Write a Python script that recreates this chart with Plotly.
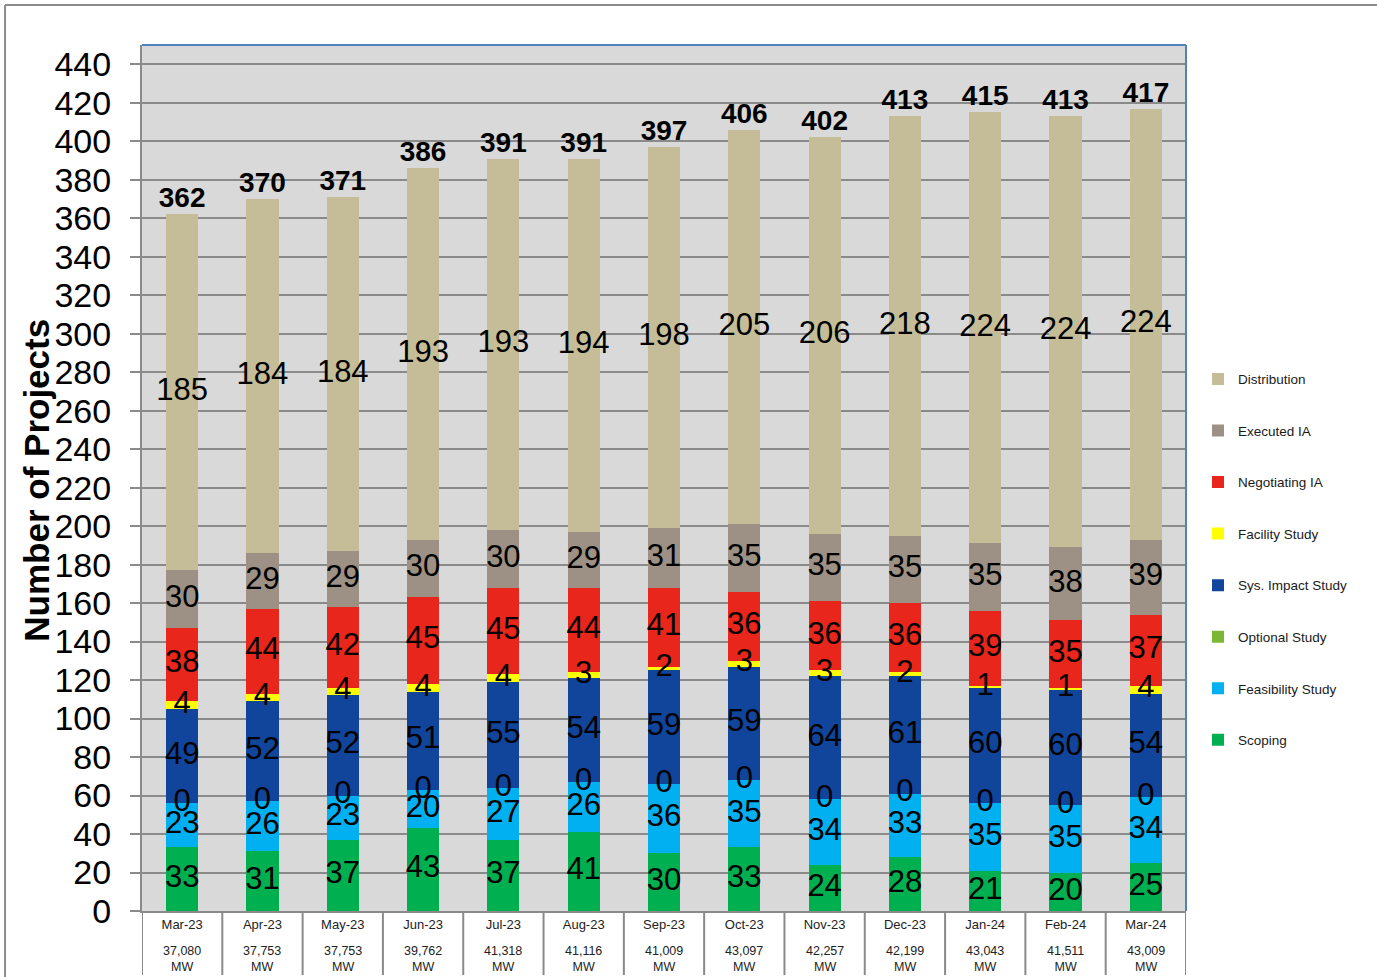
import numpy as np
import plotly.graph_objects as go

months = ["Mar-23", "Apr-23", "May-23", "Jun-23", "Jul-23", "Aug-23", "Sep-23",
          "Oct-23", "Nov-23", "Dec-23", "Jan-24", "Feb-24", "Mar-24"]
mw_labels = ["37,080", "37,753", "37,753", "39,762", "41,318", "41,116", "41,009",
             "43,097", "42,257", "42,199", "43,043", "41,511", "43,009"]

scoping = [33, 31, 37, 43, 37, 41, 30, 33, 24, 28, 21, 20, 25]
feasibility = [23, 26, 23, 20, 27, 26, 36, 35, 34, 33, 35, 35, 34]
optional = [0, 0, 0, 0, 0, 0, 0, 0, 0, 0, 0, 0, 0]
sys_impact = [49, 52, 52, 51, 55, 54, 59, 59, 64, 61, 60, 60, 54]
facility = [4, 4, 4, 4, 4, 3, 2, 3, 3, 2, 1, 1, 4]
negotiating = [38, 44, 42, 45, 45, 44, 41, 36, 36, 36, 39, 35, 37]
executed = [30, 29, 29, 30, 30, 29, 31, 35, 35, 35, 35, 38, 39]
distribution = [185, 184, 184, 193, 193, 194, 198, 205, 206, 218, 224, 224, 224]

series = [
    ("Scoping", scoping, "#00B050"),
    ("Feasibility Study", feasibility, "#00B0F0"),
    ("Optional Study", optional, "#7AB833"),
    ("Sys. Impact Study", sys_impact, "#10459B"),
    ("Facility Study", facility, "#FFFF00"),
    ("Negotiating IA", negotiating, "#E8261C"),
    ("Executed IA", executed, "#9C9184"),
    ("Distribution", distribution, "#C4BD97"),
]

FONT = "Liberation Sans, Arial, sans-serif"
GRID = "#8A8A8A"

fig = go.Figure()
base = np.zeros(len(months))
label_traces = []
n = len(series)
for k, (name, vals, color) in enumerate(series):
    v = np.array(vals, dtype=float)
    fig.add_trace(go.Bar(
        x=months, y=vals, name=name, marker=dict(color=color, line=dict(width=0)),
        legendgroup=name, legendrank=n - k,
        hovertemplate=name + ": %{y}<extra></extra>",
    ))
    label_traces.append(go.Scatter(
        x=months, y=base + v / 2, mode="text", text=[str(x) for x in vals],
        textposition="middle center",
        textfont=dict(size=31, color="black", family=FONT),
        showlegend=False, hoverinfo="skip",
    ))
    base = base + v

for t in label_traces:
    fig.add_trace(t)

totals = base.astype(int)
fig.add_trace(go.Scatter(
    x=months, y=totals, mode="text", text=[str(t) for t in totals],
    textposition="top center",
    textfont=dict(size=28, color="black", family=FONT, weight="bold"),
    showlegend=False, hoverinfo="skip", cliponaxis=False,
))

# MW row under the category labels
for m, w in zip(months, mw_labels):
    fig.add_annotation(x=m, xref="x", y=-0.036, yref="paper", yanchor="top",
                       text=f"{w}<br>MW", showarrow=False,
                       font=dict(size=12.5, color="#222222", family=FONT))

shapes = []
# category separators
for i in range(len(months) + 1):
    shapes.append(dict(type="line", xref="x", yref="paper", x0=i - 0.5, x1=i - 0.5,
                       y0=0, y1=-0.074, line=dict(color=GRID, width=2)))
# blue plot-area border (top, right)
shapes.append(dict(type="line", xref="paper", yref="paper", x0=0, x1=1, y0=1, y1=1,
                   line=dict(color="#4F81BD", width=2)))
shapes.append(dict(type="line", xref="paper", yref="paper", x0=1, x1=1, y0=0, y1=1,
                   line=dict(color="#4F81BD", width=2)))
# outer chart border (left, top)
shapes.append(dict(type="line", xref="paper", yref="paper", x0=-0.1312, x1=1.2, y0=1.0462, y1=1.0462,
                   line=dict(color="#8C8C8C", width=2)))
shapes.append(dict(type="line", xref="paper", yref="paper", x0=-0.1312, x1=-0.1312, y0=-0.1, y1=1.0462,
                   line=dict(color="#8C8C8C", width=2)))

fig.add_annotation(x=-0.1005, xref="paper", xanchor="center", y=0.497, yref="paper",
                   yanchor="middle", text="<b>Number of Projects</b>",
                   textangle=-90, showarrow=False, font=dict(size=35, color="black", family=FONT))

fig.update_layout(
    width=1377, height=977,
    margin=dict(l=142, r=191, t=45, b=66),
    paper_bgcolor="white", plot_bgcolor="#D9D9D9",
    barmode="stack", bargap=0.6,
    font=dict(family=FONT, color="black"),
    shapes=shapes,
    legend=dict(x=1.0115, xanchor="left", y=0.632, yanchor="top",
                traceorder="grouped", tracegroupgap=31,
                font=dict(size=13.5, family=FONT, color="#1A1A1A"),
                bgcolor="rgba(0,0,0,0)"),
    xaxis=dict(type="category", range=[-0.5, len(months) - 0.5], autorange=False,
               showgrid=False, showline=True, linecolor=GRID, linewidth=2,
               ticks="", tickfont=dict(size=13, color="#222222", family=FONT)),
    yaxis=dict(range=[0, 450], tickmode="linear", tick0=0, dtick=20,
               showgrid=True, gridcolor=GRID, gridwidth=2,
               showline=True, linecolor=GRID, linewidth=2,
               ticks="outside", ticklen=10, tickwidth=2, tickcolor=GRID,
               ticklabelstandoff=12,
               tickfont=dict(size=34, color="black", family=FONT), zeroline=False),
)

fig.write_html("out.html", config={"displayModeBar": False},
               post_script="document.body.style.margin='0px';")
